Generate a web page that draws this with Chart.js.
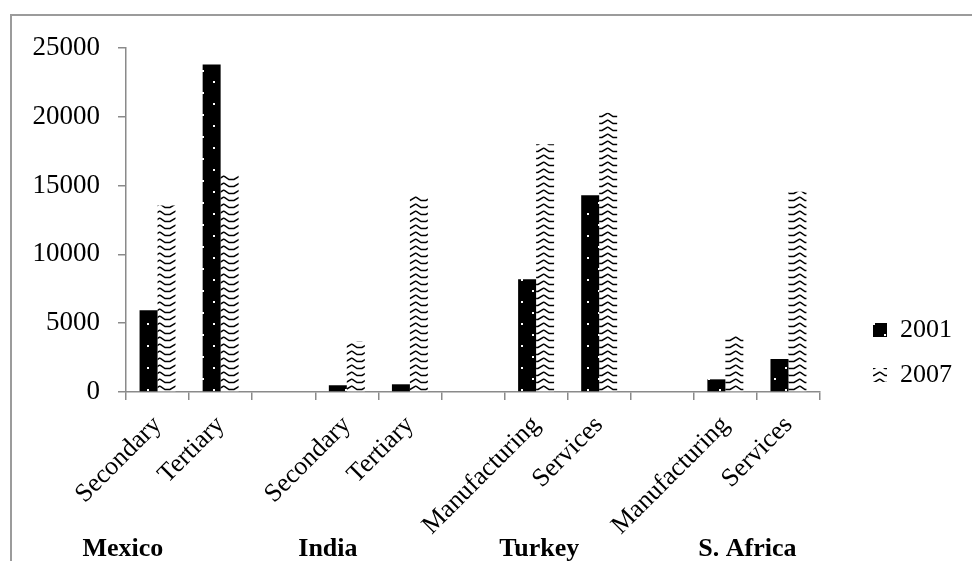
<!DOCTYPE html>
<html>
<head>
<meta charset="utf-8">
<script src="https://cdn.jsdelivr.net/npm/chart.js@4.4.1/dist/chart.umd.min.js"></script>
<style>
  html, body { margin: 0; padding: 0; background: #fff; overflow: hidden; }
  #wrap { position: relative; width: 972px; height: 561px; }
  #frame { position: absolute; left: 10px; top: 14px; width: 1200px; height: 800px; border: 2px solid #9b9b9b; }
  canvas { position: absolute; left: 0; top: 0; }
</style>
</head>
<body>
<div id="wrap">
  <div id="frame"></div>
  <canvas id="chart" width="972" height="561"></canvas>
</div>
<script>
// sectors per country, with an empty slot between groups
const sectors = ["Secondary", "Tertiary", "", "Secondary", "Tertiary", "", "Manufacturing", "Services", "", "Manufacturing", "Services"];
const values2001 = [5950, 23800, null, 490, 560, null, 8200, 14300, null, 920, 2400];
const values2007 = [13550, 15850, null, 3710, 14300, null, 18000, 20300, null, 4130, 14550];
const countries = ["Mexico", "India", "Turkey", "S. Africa"];
const countryAt = [-0.55, 2.7, 6.05, 9.35]; // position on the category axis
const yTicks = [0, 5000, 10000, 15000, 20000, 25000];

const serif = "Liberation Serif";
const axisGray = "#8a8a8a";

function dotPattern() {
  const c = document.createElement("canvas");
  c.width = 22; c.height = 22;
  const g = c.getContext("2d");
  g.fillStyle = "#000";
  g.fillRect(0, 0, 22, 22);
  g.fillStyle = "#fff";
  g.fillRect(4, 4, 2, 2);
  g.fillRect(15, 15, 2, 2);
  return g.createPattern(c, "repeat");
}

function zigzagPattern() {
  const c = document.createElement("canvas");
  c.width = 16; c.height = 7;
  const g = c.getContext("2d");
  g.fillStyle = "#fff";
  g.fillRect(0, 0, 16, 7);
  g.strokeStyle = "#000";
  g.lineWidth = 1.5;
  g.beginPath();
  g.moveTo(0, 1);
  g.lineTo(5, 4.5);
  g.lineTo(10, 4.5);
  g.lineTo(16, 1);
  g.stroke();
  return g.createPattern(c, "repeat");
}

// country names under each pair of bars
const countryLabels = {
  id: "countryLabels",
  afterDraw(chart) {
    const { ctx, chartArea, scales: { x } } = chart;
    ctx.save();
    ctx.font = "bold 26px '" + serif + "'";
    ctx.fillStyle = "#000";
    ctx.textAlign = "center";
    ctx.textBaseline = "alphabetic";
    countries.forEach((name, i) => {
      ctx.fillText(name, x.getPixelForValue(countryAt[i]), chartArea.bottom + 164);
    });
    ctx.restore();
  }
};

new Chart(document.getElementById("chart"), {
  type: "bar",
  data: {
    labels: sectors,
    datasets: [
      { label: "2001", data: values2001, backgroundColor: dotPattern(), borderWidth: 0 },
      { label: "2007", data: values2007, backgroundColor: zigzagPattern(), borderWidth: 0 }
    ]
  },
  options: {
    responsive: false,
    animation: false,
    layout: { padding: { top: 48, bottom: 0, left: 0, right: 10 } },
    datasets: { bar: { categoryPercentage: 0.57, barPercentage: 1 } },
    plugins: {
      legend: {
        position: "right",
        align: "center",
        // blank title only pushes the entries down
        title: { display: true, text: " ", font: { size: 12 }, padding: { top: 81.6, bottom: 0 } },
        labels: {
          boxWidth: 14,
          boxHeight: 14,
          padding: 19,
          color: "#000",
          font: { family: serif, size: 26 }
        }
      },
      tooltip: { enabled: false }
    },
    scales: {
      x: {
        grid: { drawOnChartArea: false, color: axisGray, lineWidth: 1.5, tickLength: 8, offset: true },
        border: { color: axisGray, width: 1.5 },
        ticks: {
          autoSkip: false,
          minRotation: 45,
          maxRotation: 45,
          padding: 10,
          color: "#000",
          font: { family: serif, size: 26 }
        },
        afterFit: s => { s.height = 169; }
      },
      y: {
        min: 0,
        max: 25000,
        afterBuildTicks: s => { s.ticks = yTicks.map(v => ({ value: v })); },
        grid: { drawOnChartArea: false, color: axisGray, lineWidth: 1.5, tickLength: 8 },
        border: { color: axisGray, width: 1.5 },
        ticks: { padding: 18, color: "#000", font: { family: serif, size: 27 }, callback: v => String(v) },
        afterFit: s => { s.width = 126; }
      },
      // empty axis, only keeps a gap between the plot and the legend
      gap: {
        type: "linear",
        position: "right",
        grid: { display: false },
        border: { display: false },
        ticks: { display: false },
        afterFit: s => { s.width = 34; }
      }
    }
  },
  plugins: [countryLabels]
});
</script>
</body>
</html>
